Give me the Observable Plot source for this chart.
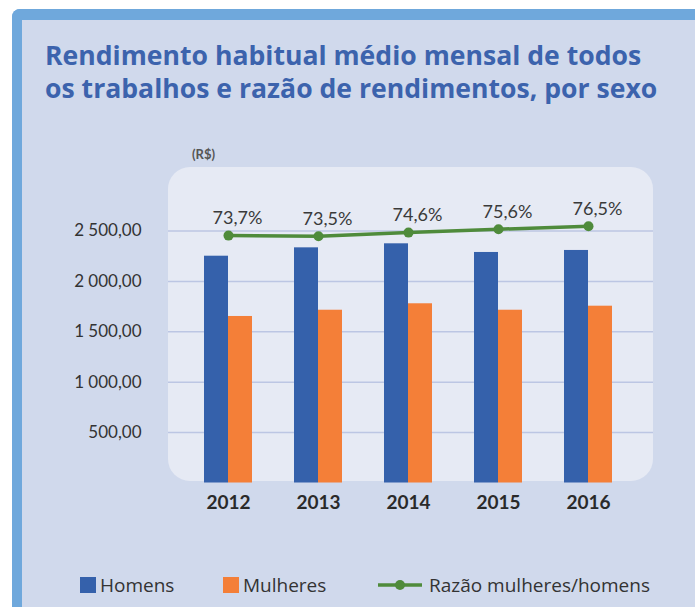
<!DOCTYPE html>
<html>
<head>
<meta charset="utf-8">
<script src="https://cdn.jsdelivr.net/npm/d3@7"></script>
<script src="https://cdn.jsdelivr.net/npm/@observablehq/plot@0.6"></script>
<style>
  html, body { margin: 0; padding: 0; background: #ffffff; width: 695px; height: 607px; overflow: hidden; }
  #frame { position: absolute; left: 12px; top: 9px; width: 720px; height: 640px;
    background: #d0d9ec; border-top: 11px solid #6fa8dc; border-left: 10px solid #6fa8dc;
    border-top-left-radius: 8px; box-sizing: border-box; }
  #panel { position: absolute; left: 168px; top: 167px; width: 485px; height: 314px;
    background: #e6eaf4; border-radius: 22px; }
  .tline { position: absolute; left: 45px; font-family: "Open Sans", sans-serif; font-weight: bold;
    font-size: 26.6px; line-height: 30px; height: 30px; color: #3c63ad; white-space: nowrap; }
  #unit { position: absolute; left: 192px; top: 146px; font-family: Lato, sans-serif; font-weight: bold;
    font-size: 13px; color: #555; }
  #chart { position: absolute; left: 0; top: 0; }
  #legend { position: absolute; left: 0; top: 573px; width: 695px; height: 24px;
    font-family: "Open Sans", sans-serif; font-size: 19px; color: #333; }
  .item { position: absolute; top: 0; height: 24px; line-height: 24px; white-space: nowrap; }
  .sw { position: absolute; top: 4px; width: 16px; height: 16px; }
</style>
</head>
<body>
<div id="frame"></div>
<div id="panel"></div>
<div class="tline" style="top: 40px;">Rendimento habitual médio mensal de todos</div>
<div class="tline" style="top: 73px;">os trabalhos e razão de rendimentos, por sexo</div>
<div id="unit">(R$)</div>
<div id="chart"></div>
<div id="legend"></div>
<script>
const years = ["2012", "2013", "2014", "2015", "2016"];
const homens = [2250, 2333, 2373, 2287, 2307];
const mulheres = [1652, 1714, 1778, 1714, 1754];
const razao = [73.7, 73.5, 74.6, 75.6, 76.5];
const yTicks = [500, 1000, 1500, 2000, 2500];
const yTickLabels = ["500,00", "1 000,00", "1 500,00", "2 000,00", "2 500,00"];
const razaoLabels = ["73,7%", "73,5%", "74,6%", "75,6%", "76,5%"];
const seriesNames = ["Homens", "Mulheres", "Razão mulheres/homens"];
const colors = ["#3561ab", "#f47f38", "#4f8b3b"];

// secondary (ratio) axis: 0–100% shares the baseline of the R$ axis, 100% ≈ R$ 3 330
const ratioToY = 33.3;

const rows = years.map((y, i) => ({year: y, homens: homens[i], mulheres: mulheres[i], razao: razao[i], label: razaoLabels[i]}));

const chart = Plot.plot({
  width: 695,
  height: 530,
  marginLeft: 168,
  marginRight: 42,
  marginTop: 167,
  marginBottom: 47.5,
  style: {background: "transparent", overflow: "visible", fontFamily: "Lato, sans-serif"},
  x: {domain: years, range: [203, 613], paddingInner: 0.47, paddingOuter: 0, label: null},
  y: {domain: [0, 3130], label: null},
  marks: [
    Plot.gridY(yTicks, {stroke: "#bcc6e3", strokeOpacity: 1, strokeWidth: 1.5}),
    Plot.axisY(yTicks, {tickSize: 0, tickPadding: 27, fontSize: 17, fill: "#333",
      tickFormat: d => yTickLabels[yTicks.indexOf(d)]}),
    Plot.barY(rows, {x: "year", y: "homens", fill: colors[0], insetRight: 24}),
    Plot.barY(rows, {x: "year", y: "mulheres", fill: colors[1], insetLeft: 24}),
    Plot.axisX({tickSize: 0, tickPadding: 12, fontSize: 19, fontWeight: "bold", fill: "#2a2a2a"}),
    Plot.line(rows, {x: "year", y: d => d.razao * ratioToY, stroke: colors[2], strokeWidth: 3.5}),
    Plot.dot(rows, {x: "year", y: d => d.razao * ratioToY, r: 5, fill: colors[2]}),
    Plot.text(rows, {x: "year", y: d => d.razao * ratioToY, text: "label", dy: -17, dx: 9, fontSize: 18, fill: "#3a3a3a"})
  ]
});
document.getElementById("chart").appendChild(chart);

// legend
const legend = document.getElementById("legend");
const items = [
  {name: seriesNames[0], color: colors[0], type: "box", sx: 80, tx: 100},
  {name: seriesNames[1], color: colors[1], type: "box", sx: 223, tx: 243},
  {name: seriesNames[2], color: colors[2], type: "line", sx: 378, tx: 429}
];
for (const it of items) {
  if (it.type === "box") {
    const s = document.createElement("div");
    s.className = "sw";
    s.style.left = it.sx + "px";
    s.style.background = it.color;
    legend.appendChild(s);
  } else {
    const ns = "http://www.w3.org/2000/svg";
    const svg = document.createElementNS(ns, "svg");
    svg.setAttribute("width", 44); svg.setAttribute("height", 24);
    svg.style.position = "absolute"; svg.style.left = it.sx + "px"; svg.style.top = "0px";
    const l = document.createElementNS(ns, "line");
    l.setAttribute("x1", 0); l.setAttribute("x2", 44); l.setAttribute("y1", 12); l.setAttribute("y2", 12);
    l.setAttribute("stroke", it.color); l.setAttribute("stroke-width", 3.5);
    const c = document.createElementNS(ns, "circle");
    c.setAttribute("cx", 22); c.setAttribute("cy", 12); c.setAttribute("r", 5); c.setAttribute("fill", it.color);
    svg.appendChild(l); svg.appendChild(c);
    legend.appendChild(svg);
  }
  const t = document.createElement("div");
  t.className = "item";
  t.style.left = it.tx + "px";
  t.textContent = it.name;
  legend.appendChild(t);
}
</script>
</body>
</html>
